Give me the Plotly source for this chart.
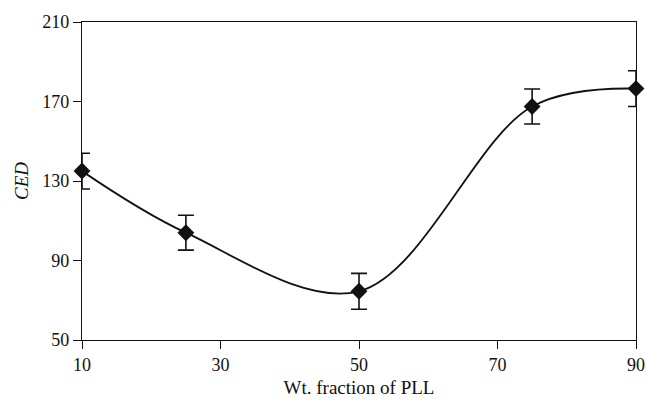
import plotly.graph_objects as go

wt_fraction = [10, 25, 50, 75, 90]
ced = [135, 104, 74.5, 167.5, 176.5]
ced_err = [9, 8.8, 9, 8.8, 9]
x_ticks = [10, 30, 50, 70, 90]
y_ticks = [50, 90, 130, 170, 210]

fig = go.Figure()
fig.add_trace(go.Scatter(
    x=wt_fraction, y=ced,
    mode="lines+markers",
    line=dict(shape="spline", smoothing=1, color="#111111", width=1.8),
    marker=dict(symbol="diamond", size=13, color="#111111"),
    error_y=dict(type="data", array=ced_err, visible=True, color="#111111", thickness=1.6, width=8),
    cliponaxis=False,
    showlegend=False,
))

font_family = "Liberation Serif"
fig.update_layout(
    width=646, height=401,
    margin=dict(l=82, r=10, t=22, b=61),
    paper_bgcolor="white", plot_bgcolor="white",
    font=dict(family=font_family, size=18, color="#111111"),
)
fig.update_xaxes(
    range=[10, 90], tickvals=x_ticks, ticks="outside", ticklen=8, tickwidth=1.2,
    tickcolor="#111111", showline=True, linecolor="#111111", linewidth=1.2, mirror=True,
    showgrid=False, zeroline=False, ticklabeloverflow="allow", automargin=False,
    title=dict(text="Wt. fraction of PLL", font=dict(size=19), standoff=6),
)
fig.update_yaxes(
    range=[50, 210], tickvals=y_ticks, ticks="outside", ticklen=8, tickwidth=1.2,
    tickcolor="#111111", showline=True, linecolor="#111111", linewidth=1.2, mirror=True,
    showgrid=False, zeroline=False, ticklabeloverflow="allow", automargin=False,
    title=dict(text="<i>CED</i>", font=dict(size=19, color="#111111"), standoff=8),
)

fig.write_html("out.html")
